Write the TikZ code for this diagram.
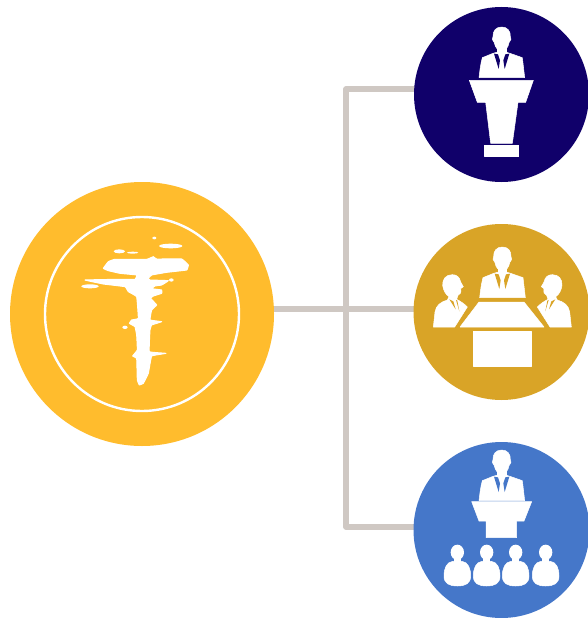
\documentclass[tikz,border=0pt]{standalone}
\usetikzlibrary{backgrounds}
\definecolor{hubc}{HTML}{FFBC2D}
\definecolor{navyc}{HTML}{10006A}
\definecolor{goldc}{HTML}{D9A427}
\definecolor{bluec}{HTML}{4577C9}
\definecolor{linkc}{HTML}{CFC8C3}
\tikzset{
  disc/.style={circle,inner sep=0pt,minimum size=#1},
  link/.style={draw=linkc,line width=5.2pt,line join=round},
  icon/.style={fill=white,draw=white,line width=.5pt,line join=round},
  zoomed/.style={x=0.33333pt,y=-0.33333pt}
}
% speaker figure, drawn in 3x coordinates; #1 = colour of the disc behind it
\newcommand\speakerfig[1]{%
  \fill[icon] (263,66) .. controls (280,66) and (290,78) .. (289,95) -- (291,103) -- (285,113) .. controls (282,128) and (276,136) .. (263,137) .. controls (250,136) and (244,128) .. (241,113) -- (235,103) -- (237,95) .. controls (236,78) and (246,66) .. (263,66) -- cycle;
  \fill[icon] (250,125) rectangle (276,145);
  \fill[icon] (237,145) -- (205,158) .. controls (200,175) and (197,200) .. (195,218) -- (332,218) .. controls (330,200) and (327,175) .. (325,158) -- (288,145) -- (263,138) -- cycle;
  \fill[#1] (240,146) -- (252,148) -- (258,166) -- (254,192) -- cycle;
  \fill[#1] (286,146) -- (274,148) -- (268,166) -- (272,192) -- cycle;
}
\begin{document}
\begin{tikzpicture}[x=1pt,y=-1pt]
\useasboundingbox (0,0) rectangle (588,618);
\node[disc=264pt,fill=hubc] (hub) at (142,314) {};
\node[disc=175pt,fill=navyc] (top) at (501.5,94.5) {};
\node[disc=176pt,fill=goldc] (mid) at (501.5,312) {};
\node[disc=176pt,fill=bluec] (bot) at (501.5,530) {};
\node[disc=194pt,draw=white,line width=2.4pt] (ring) at (hub) {};
\coordinate (jm) at (346,309);
\coordinate (jt) at (346,89);
\coordinate (jb) at (346,527);
\begin{scope}[on background layer]
  \draw[link] (hub.center |- jm) -- (jm) -- (mid.center |- jm);
  \draw[link] (top.center |- jt) -- (jt) -- (jb) -- (bot.center |- jb);
\end{scope}
% hub glyph
\begin{scope}[shift={(40,210)},zoomed]
  \path[fill=white,draw=white,line width=1pt,line join=round] plot[smooth cycle,tension=.12] coordinates {
    (190,175) (205,155) (225,148) (320,148) (340,140) (350,147) (425,147) (445,165) (440,180) (380,187)
    (335,195) (325,205) (330,210) (385,212) (365,225) (345,228) (335,236) (365,240) (365,250) (340,258)
    (332,265) (350,285) (335,300) (330,330) (365,335) (335,345) (330,360) (328,425) (378,430) (335,438)
    (325,490) (310,520) (298,525) (292,510) (290,445) (278,438) (292,420) (290,375) (285,350) (268,340)
    (275,330) (295,325) (290,260) (265,245) (255,230) (190,222) (135,210) (230,208) (285,208) (290,195)
    (240,190) (205,182)};
  \fill[white] (293,190) rectangle (328,490);
  \fill[white] (215,152) rectangle (430,182);
  \fill[white] (150,229) ellipse [x radius=26,y radius=6];
  \fill[white] (394,210) ellipse [x radius=7,y radius=5];
  \fill[white] (255,352) ellipse [x radius=8,y radius=5];
  \fill[white] (238,124) ellipse [x radius=17,y radius=6];
  \fill[white] (278,128) ellipse [x radius=17,y radius=3];
  \fill[white] (392,108) ellipse [x radius=35,y radius=7];
  \fill[white] (343,84) ellipse [x radius=6,y radius=4];
\end{scope}
% top icon: speaker at lectern
\begin{scope}[shift={(414,5)},zoomed]
  \speakerfig{navyc}
  \fill[icon] (166,226) -- (358,226) -- (335,292) -- (312,292) -- (295,415) -- (230,415) -- (215,292) -- (190,292) -- cycle;
  \fill[icon] (212,420) rectangle (314,455);
\end{scope}
% middle icon: meeting
\begin{scope}[shift={(414,222)},zoomed]
  \begin{scope}[shift={(2,9)}]\speakerfig{goldc}\end{scope}
  \fill[icon] (195,240) -- (330,240) -- (390,315) -- (138,315) -- cycle;
  \fill[icon] (178,328) rectangle (352,433);
  % left
  \fill[icon] (115,158) .. controls (95,158) and (85,172) .. (86,190) .. controls (88,205) and (95,218) .. (105,224) -- (100,234) .. controls (80,240) and (66,250) .. (63,270) -- (58,315) -- (122,315) -- (160,255) .. controls (150,245) and (140,238) .. (128,232) -- (132,220) .. controls (140,218) and (142,210) .. (140,200) -- (148,194) -- (140,180) .. controls (137,165) and (128,158) .. (115,158) -- cycle;
  \fill[goldc] (106,232) -- (125,262) -- (118,238) -- cycle;
  \fill[goldc] (126,234) -- (136,268) -- (130,236) -- cycle;
  % right
  \fill[icon] (415,158) .. controls (435,158) and (445,172) .. (444,190) .. controls (442,205) and (435,218) .. (425,224) -- (430,234) .. controls (450,240) and (464,250) .. (467,270) -- (472,315) -- (408,315) -- (370,255) .. controls (380,245) and (390,238) .. (402,232) -- (398,220) .. controls (390,218) and (388,210) .. (390,200) -- (382,194) -- (390,180) .. controls (393,165) and (402,158) .. (415,158) -- cycle;
  \fill[goldc] (424,232) -- (405,262) -- (412,238) -- cycle;
  \fill[goldc] (404,234) -- (394,268) -- (400,236) -- cycle;
\end{scope}
% bottom icon: speaker and audience
\begin{scope}[shift={(414,440)},zoomed]
  \begin{scope}[shift={(0,-36)}]\speakerfig{bluec}\end{scope}
  \fill[icon] (173,185) -- (353,185) -- (330,243) -- (308,243) -- (308,293) -- (216,293) -- (216,243) -- (195,243) -- cycle;
  \foreach \cx in {130,218,305,395}{
    \fill[white] (\cx,337) ellipse [x radius=20,y radius=23];
    \fill[white] (\cx-10,350) rectangle (\cx+10,372);
    \fill[icon] (\cx-14,364) .. controls (\cx-32,366) and (\cx-40,385) .. (\cx-40,408) .. controls (\cx-40,430) and (\cx-25,438) .. (\cx,438) .. controls (\cx+25,438) and (\cx+40,430) .. (\cx+40,408) .. controls (\cx+40,385) and (\cx+32,366) .. (\cx+14,364) -- cycle;
  }
\end{scope}
\end{tikzpicture}
\end{document}
